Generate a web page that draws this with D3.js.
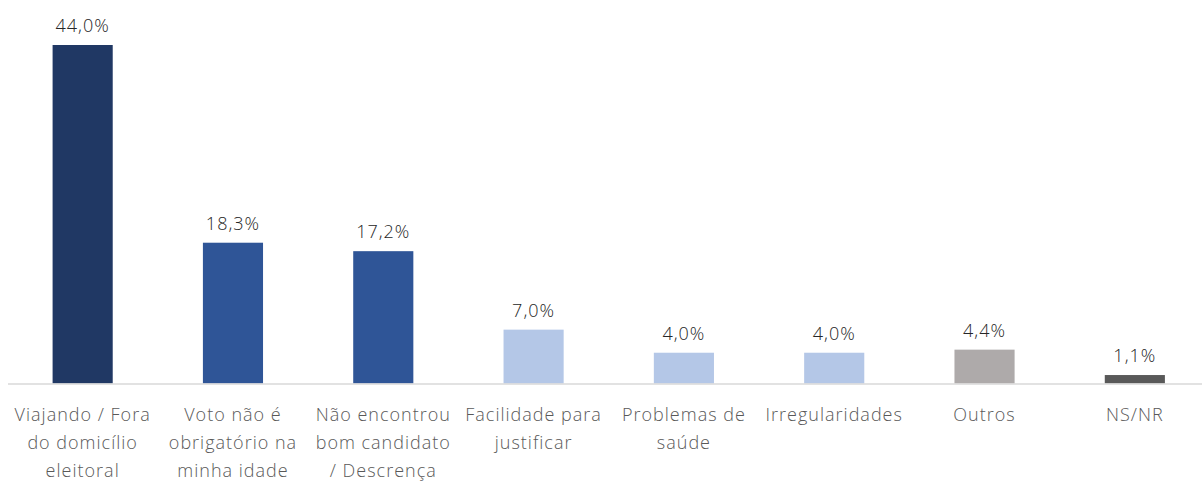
<!DOCTYPE html>
<html>
<head>
<meta charset="utf-8">
<script src="https://cdn.jsdelivr.net/npm/d3@7"></script>
<style>
  body { margin: 0; background: #fff; }
  svg { display: block; font-family: 'Open Sans', sans-serif; }
</style>
</head>
<body>
<div id="chart"></div>
<script>
const categories = [
  'Viajando / Fora\ndo domicílio\neleitoral',
  'Voto não é\nobrigatório na\nminha idade',
  'Não encontrou\nbom candidato\n/ Descrença',
  'Facilidade para\njustificar',
  'Problemas de\nsaúde',
  'Irregularidades',
  'Outros',
  'NS/NR'
];
const values = [44.0, 18.3, 17.2, 7.0, 4.0, 4.0, 4.4, 1.1];
const colors = ['#203864', '#2F5597', '#2F5597', '#B4C7E7', '#B4C7E7', '#B4C7E7', '#AEAAAA', '#595959'];

const width = 1202;
const height = 481;
const margin = { top: 45, left: 7.5, right: -8, baseline: 383.5 };

const svg = d3
  .select('#chart')
  .append('svg')
  .attr('width', width)
  .attr('height', height);

const x = d3
  .scaleBand()
  .domain(d3.range(categories.length))
  .range([margin.left, width - margin.right])
  .paddingInner(0.6)
  .paddingOuter(0.3);

const y = d3
  .scaleLinear()
  .domain([0, 44])
  .range([margin.baseline, margin.top]);

// bars
svg
  .selectAll('rect.bar')
  .data(values)
  .enter()
  .append('rect')
  .attr('class', 'bar')
  .attr('x', (d, i) => x(i))
  .attr('y', (d) => y(d))
  .attr('width', x.bandwidth())
  .attr('height', (d) => y(0) - y(d))
  .attr('fill', (d, i) => colors[i]);

// baseline
svg
  .append('line')
  .attr('x1', 8)
  .attr('x2', width)
  .attr('y1', y(0) + 0.5)
  .attr('y2', y(0) + 0.5)
  .attr('stroke', '#D9D9D9')
  .attr('stroke-width', 1.5);

// value labels
svg
  .selectAll('text.value')
  .data(values)
  .enter()
  .append('text')
  .attr('class', 'value')
  .attr('x', (d, i) => x(i) + x.bandwidth() / 2)
  .attr('y', (d) => y(d) - 13)
  .attr('text-anchor', 'middle')
  .attr('fill', '#262626')
  .style('font-size', '18px')
  .style('font-weight', 300)
  .style('letter-spacing', '1px')
  .text((d) => d.toFixed(1).replace('.', ',') + '%');

// category labels
const labels = svg
  .selectAll('text.cat')
  .data(categories)
  .enter()
  .append('text')
  .attr('class', 'cat')
  .attr('x', (d, i) => x(i) + x.bandwidth() / 2)
  .attr('y', y(0) + 37)
  .attr('text-anchor', 'middle')
  .attr('fill', '#595959')
  .style('font-size', '18px')
  .style('font-weight', 300)
  .style('letter-spacing', '1px');

labels.each(function (d) {
  const t = d3.select(this);
  d.split('\n').forEach((line, k) => {
    t.append('tspan')
      .attr('x', t.attr('x'))
      .attr('dy', k === 0 ? 0 : 28)
      .text(line);
  });
});
</script>
</body>
</html>
